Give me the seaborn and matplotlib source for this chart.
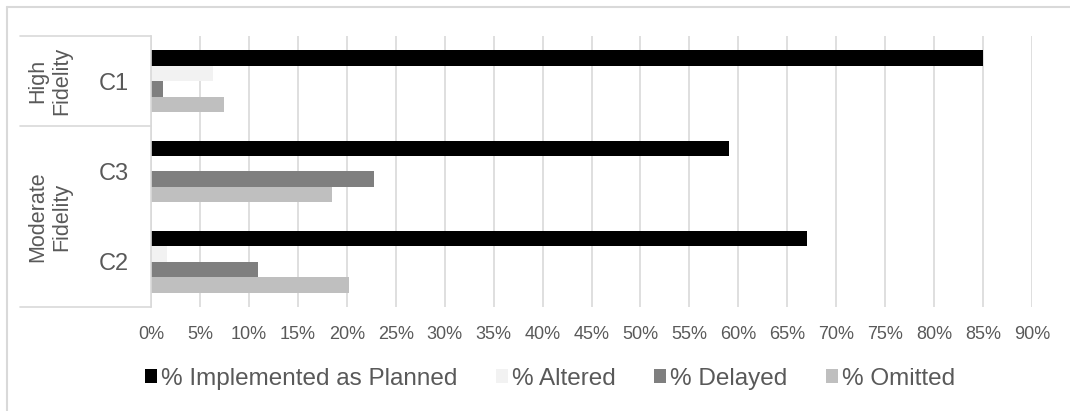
import numpy as np
import pandas as pd
import matplotlib
matplotlib.use("Agg")
import matplotlib.pyplot as plt
from matplotlib.lines import Line2D
from matplotlib.ticker import FuncFormatter, MultipleLocator
import seaborn as sns

# Classroom cases, top to bottom
cases = ["C1", "C3", "C2"]
fidelity_groups = ["High\nFidelity", "Moderate\nFidelity"]
group_sizes = [1, 2]

# Share of planned activities (%) by outcome
series_names = ["% Implemented as Planned", "% Altered", "% Delayed", "% Omitted"]
implemented = [85.0, 59.0, 67.0]
altered = [6.3, 0.0, 1.6]
delayed = [1.2, 22.8, 10.9]
omitted = [7.5, 18.5, 20.2]

colors = ["#000000", "#F2F2F2", "#7F7F7F", "#BFBFBF"]
text_color = "#595959"
line_color = "#D9D9D9"

rows = []
for name, vals in zip(series_names, [implemented, altered, delayed, omitted]):
    for case, v in zip(cases, vals):
        rows.append({"case": case, "outcome": name, "pct": v})
df = pd.DataFrame(rows)

sns.set_theme(style="white")
plt.rcParams["font.family"] = ["Liberation Sans", "DejaVu Sans"]

W, H = 1070, 411
fig = plt.figure(figsize=(W / 100, H / 100), dpi=100)
ax = fig.add_axes([151 / W, 1 - 307 / H, (1032 - 151) / W, (307 - 36) / H])

sns.barplot(
    data=df, y="case", x="pct", hue="outcome",
    order=cases, hue_order=series_names, palette=colors,
    orient="h", width=0.68, saturation=1, linewidth=0, ax=ax,
)

ax.set_xlim(0, 90)
ax.xaxis.set_major_locator(MultipleLocator(5))
ax.xaxis.set_major_formatter(FuncFormatter(lambda v, p: f"{v:.0f}%"))
ax.grid(axis="x", color=line_color, linewidth=1.2)
ax.set_axisbelow(True)
ax.tick_params(axis="x", length=0, pad=14, labelsize=13, labelcolor=text_color)
ax.tick_params(axis="y", length=0, pad=16, labelsize=17, labelcolor=text_color)
ax.set_xlabel("")
ax.set_ylabel("")
for side in ["top", "right", "bottom"]:
    ax.spines[side].set_visible(False)
ax.spines["left"].set_color(line_color)
ax.spines["left"].set_linewidth(1.2)

# Fidelity group labels with separating rules
trans = ax.get_yaxis_transform()
x_box = -(151 - 20) / (1032 - 151)
edges = [-0.5]
for n in group_sizes:
    edges.append(edges[-1] + n)
for y in edges:
    ax.add_line(Line2D([x_box, 0], [y, y], transform=trans, color=line_color,
                       linewidth=1.2, clip_on=False))
x_lab = -(151 - 50) / (1032 - 151)
for label, lo, hi in zip(fidelity_groups, edges[:-1], edges[1:]):
    ax.text(x_lab, (lo + hi) / 2, label, transform=trans, rotation=90,
            ha="center", va="center", fontsize=15.5, color=text_color,
            linespacing=1.2)

# Chart frame
fig.add_artist(Line2D([7 / W, 1], [1 - 7 / H, 1 - 7 / H], color=line_color, linewidth=1.5))
fig.add_artist(Line2D([7 / W, 7 / W], [0, 1 - 7 / H], color=line_color, linewidth=1.5))

handles, labels = ax.get_legend_handles_labels()
ax.legend_.remove()
fig.legend(handles, labels, loc="center", bbox_to_anchor=(550 / W, 1 - 379 / H),
           ncol=4, frameon=False, fontsize=17.5, labelcolor=text_color,
           handlelength=0.5, handleheight=0.5, handletextpad=0.15,
           columnspacing=1.6)

fig.savefig("out.png", dpi=100)
